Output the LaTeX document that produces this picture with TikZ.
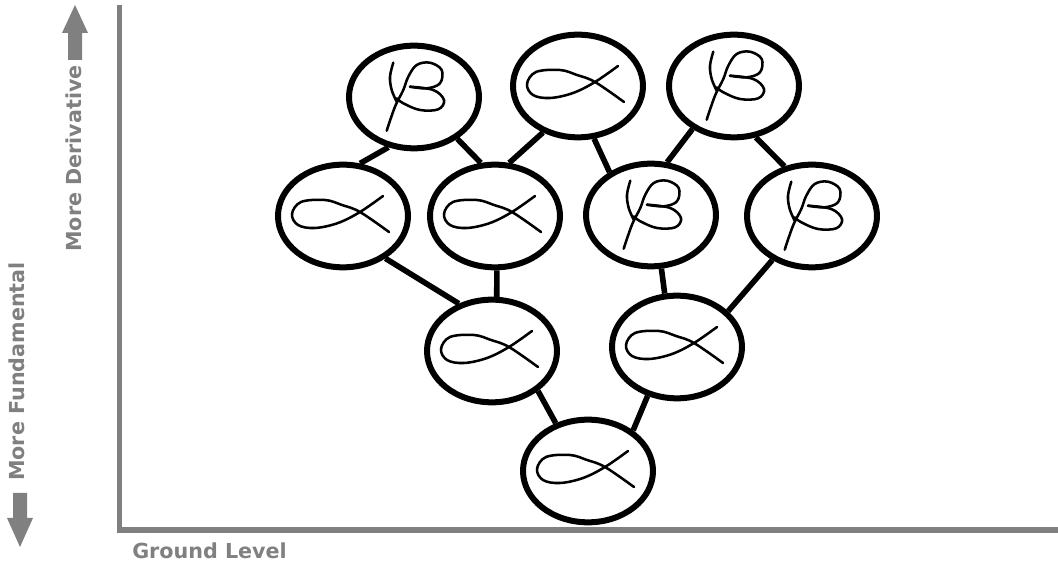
\documentclass[tikz,border=0pt]{standalone}
\usepackage{fontspec}
\setmainfont{DejaVu Sans}
\usetikzlibrary{shapes.geometric}
\definecolor{axisgray}{RGB}{128,128,128}
\tikzset{
  bubble/.style={ellipse, draw=black, line width=4.5pt, minimum width=97.5pt, minimum height=77pt, inner sep=0pt},
  link/.style={line width=4.2pt, draw=black},
  glyph/.style={line width=1.9pt, line cap=round, line join=round},
  axislabel/.style={text=axisgray, font=\bfseries\fontsize{15.5}{18}\selectfont, inner sep=0pt},
  axisline/.style={draw=axisgray},
  arrowshape/.style={fill=axisgray},
  alphasym/.pic={
    \draw[glyph] plot[smooth, tension=0.6] coordinates {(40,-20) (17,-4) (-5,7) (-28,12) (-45,9) (-51,-2) (-42,-14) (-18,-16) (-1,-11) (17,-4) (46,16)};
  },
  betasym/.pic={
    \draw[glyph] plot[smooth, tension=0.6] coordinates {(-20.7,-34.3) (-24,-20.3) (-22.3,-7) (-17.3,4.7)};
    \draw[glyph] plot[smooth, tension=0.6] coordinates {(-27.3,33.7) (-19,9.7) (-10.7,-7) (-5.7,-20.3) (2.7,-32) (16,-34.3) (27.7,-27) (26,-13.7) (12.7,-8.7) (-4,-10.3)};
    \draw[glyph] plot[smooth, tension=0.6] coordinates {(-4,-10.3) (19.3,-7) (30,3) (24.3,12.3) (6,13) (-10.7,6.3) (-17.3,1.3)};
  }
}
\begin{document}
\begin{tikzpicture}[x=0.75pt, y=-0.75pt]
\useasboundingbox (0,0) rectangle (1058,566);
% axes
\draw[axisline, line width=3.5pt] (119.5,5) -- (119.5,530);
\draw[axisline, line width=3.9pt] (117.2,530) -- (1058,530);
% labels
\node[axislabel, rotate=90] (deriv) at (73.5,158.5) {More Derivative};
\node[axislabel, rotate=90] (fund) at (16.5,371.5) {More Fundamental};
\node[axislabel, anchor=west] (ground) at (132,551) {Ground Level};
% arrows
\fill[arrowshape] (68,60) -- (68,33) -- (62,33) -- (75,5) -- (88,33) -- (82,33) -- (82,60) -- cycle;
\fill[arrowshape] (13,493) -- (13,518) -- (7,518) -- (20,547) -- (33,518) -- (27,518) -- (27,493) -- cycle;
% nodes
\node[bubble] (b1) at (414,97) {};
\node[bubble] (a1) at (578,86) {};
\node[bubble] (b2) at (734,86) {};
\node[bubble] (a2) at (343,216) {};
\node[bubble] (a3) at (495,216) {};
\node[bubble] (b3) at (651,215) {};
\node[bubble] (b4) at (812,216) {};
\node[bubble] (a4) at (492,351) {};
\node[bubble] (a5) at (677,347) {};
\node[bubble] (a6) at (588,471) {};
% symbols
\pic at (b1) {betasym};
\pic at (b2) {betasym};
\pic at (b3) {betasym};
\pic at (b4) {betasym};
\pic at (a1) {alphasym};
\pic at (a2) {alphasym};
\pic at (a3) {alphasym};
\pic at (a4) {alphasym};
\pic at (a5) {alphasym};
\pic at (a6) {alphasym};
% links
\draw[link] (a2.72) -- (b1.243);
\draw[link] (b1.316) -- (a3.105);
\draw[link] (a1.233) -- (a3.75);
\draw[link] (a1.287) -- (b3.134);
\draw[link] (b2.226) -- (b3.73);
\draw[link] (b2.293) -- (b4.119);
\draw[link] (a2.315) -- (a4.125);
\draw[link] (a3.272) -- (a4.85);
\draw[link] (b3.281) -- (a5.103);
\draw[link] (b4.228) -- (a5.35);
\draw[link] (a4.319) -- (a6.124);
\draw[link] (a5.239) -- (a6.42);
\end{tikzpicture}
\end{document}
